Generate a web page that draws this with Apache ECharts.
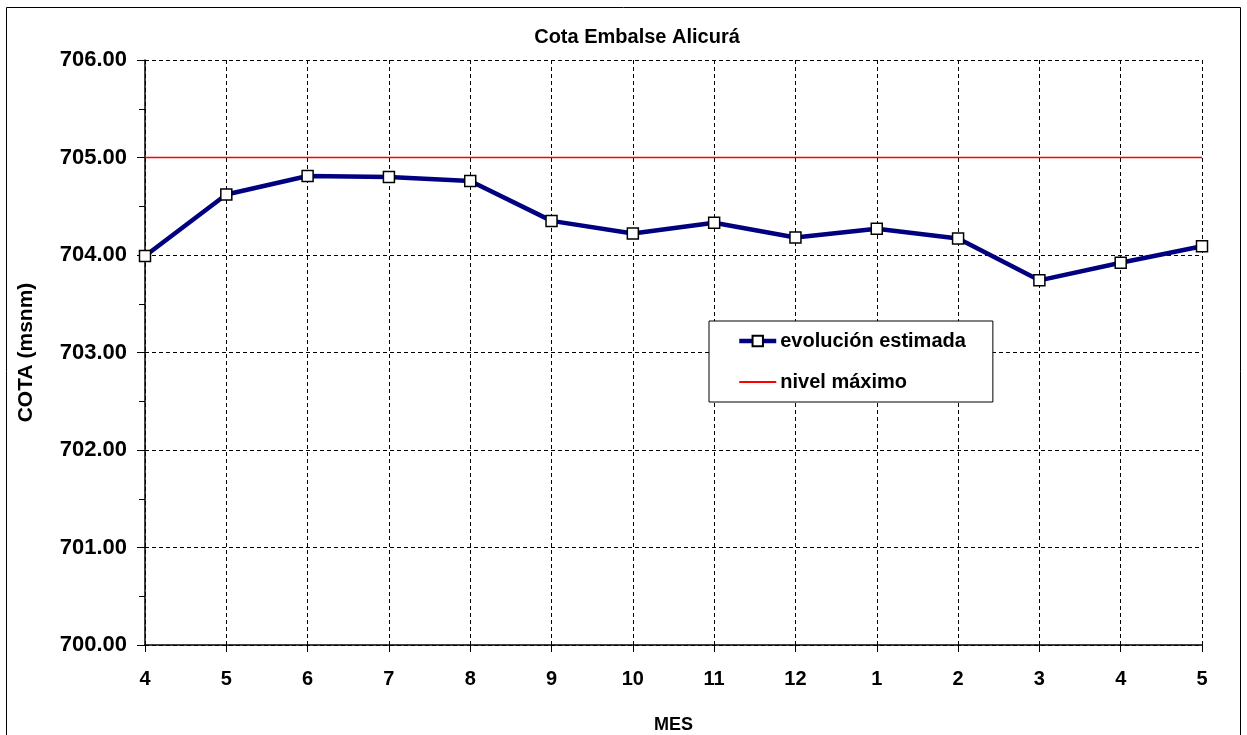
<!DOCTYPE html>
<html>
<head>
<meta charset="utf-8">
<script src="https://cdn.jsdelivr.net/npm/echarts@6/dist/echarts.min.js"></script>
<style>
  html, body { margin: 0; padding: 0; background: #fff; }
  #chart { width: 1247px; height: 735px; }
</style>
</head>
<body>
<div id="chart"></div>
<script>
// Months (April to May of the following year)
const meses = ['4', '5', '6', '7', '8', '9', '10', '11', '12', '1', '2', '3', '4', '5'];
// Estimated reservoir level (m a.s.l.)
const evolucionEstimada = [703.99, 704.62, 704.81, 704.80, 704.76, 704.35, 704.22, 704.33, 704.18, 704.27, 704.17, 703.74, 703.92, 704.09];
// Maximum operating level
const nivelMaximo = meses.map(() => 705.00);
const yMin = 700, yMax = 706, yStep = 1;

const FONT = '"Liberation Sans", Arial, sans-serif';
const chart = echarts.init(document.getElementById('chart'), null, { renderer: 'canvas' });

chart.setOption({
  backgroundColor: '#ffffff',
  animation: false,
  title: {
    text: 'Cota Embalse Alicurá',
    left: 632, top: 22, textAlign: 'center',
    textStyle: { fontFamily: FONT, fontWeight: 'bold', fontSize: 20, color: '#000' }
  },
  graphic: [{
    type: 'rect', z: -10,
    shape: { x: 6.5, y: 7.5, width: 1234, height: 740 },
    style: { fill: 'none', stroke: '#000', lineWidth: 1 }
  }],
  grid: { left: 145, right: 45, top: 60, bottom: 90, containLabel: false, outerBoundsMode: 'none' },
  legend: {
    left: 709, top: 321,
    orient: 'vertical',
    backgroundColor: '#fff',
    borderColor: '#000', borderWidth: 1,
    padding: [10, 27, 10, 28],
    itemGap: 21, itemWidth: 37, itemHeight: 13,
    lineStyle: { width: 'inherit' },
    textStyle: { fontFamily: FONT, fontWeight: 'bold', fontSize: 20, color: '#000', padding: [0, 0, 0, -1] },
    data: [
      { name: 'evolución estimada' },
      { name: 'nivel máximo', icon: 'path://M0,0H37V2H0Z' }
    ]
  },
  xAxis: {
    type: 'category', data: meses, boundaryGap: false,
    name: 'MES', nameLocation: 'middle', nameGap: 71,
    nameTextStyle: { fontFamily: FONT, fontWeight: 'bold', fontSize: 18, color: '#000' },
    axisLine: { lineStyle: { color: '#000', width: 1.5 } },
    axisTick: { show: true, inside: false, length: 7, alignWithLabel: true, lineStyle: { color: '#000' } },
    axisLabel: { fontFamily: FONT, fontWeight: 'bold', fontSize: 20, color: '#000', margin: 24 },
    splitLine: { show: true, lineStyle: { color: '#000', type: [4, 3], width: 1 } }
  },
  yAxis: {
    type: 'value', min: yMin, max: yMax, interval: yStep,
    name: 'COTA (msnm)', nameLocation: 'middle', nameGap: 108, nameRotate: 90,
    nameTextStyle: { fontFamily: FONT, fontWeight: 'bold', fontSize: 21, color: '#000' },
    axisLine: { show: true, lineStyle: { color: '#000', width: 1.5 } },
    axisTick: { show: true, inside: false, length: 8, lineStyle: { color: '#000' } },
    minorTick: { show: true, splitNumber: 2, length: 6, lineStyle: { color: '#000' } },
    axisLabel: { fontFamily: FONT, fontWeight: 'bold', fontSize: 22, color: '#000', margin: 18,
      formatter: v => v.toFixed(2) },
    splitLine: { show: true, lineStyle: { color: '#000', type: [4, 3], width: 1 } }
  },
  series: [
    {
      name: 'nivel máximo', type: 'line', data: nivelMaximo,
      symbol: 'none', z: 2,
      lineStyle: { color: '#ff0000', width: 1.5 },
      itemStyle: { color: '#ff0000' }
    },
    {
      name: 'evolución estimada', type: 'line', data: evolucionEstimada,
      symbol: 'rect', symbolSize: 11, z: 3,
      lineStyle: { color: '#000080', width: 4.5 },
      itemStyle: { color: '#ffffff', borderColor: '#000', borderWidth: 1.5 }
    }
  ]
});
</script>
</body>
</html>
